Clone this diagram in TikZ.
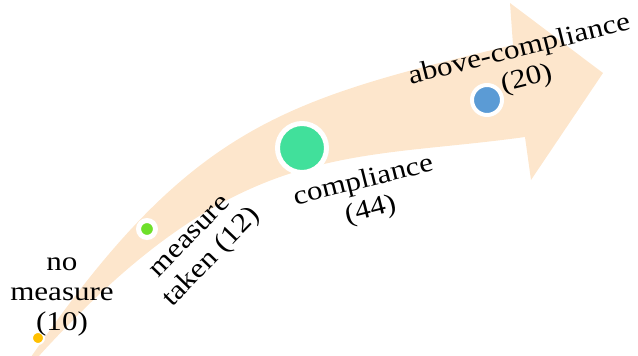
\documentclass[tikz,border=0pt]{standalone}
\usepackage{fontspec}
\setmainfont{Liberation Serif}

\definecolor{band}{HTML}{FDE6CC}
\definecolor{gold}{HTML}{FFC000}
\definecolor{lime}{HTML}{6EE02A}
\definecolor{mint}{HTML}{41E09B}
\definecolor{steel}{HTML}{5B9BD5}

\begin{document}
\begin{tikzpicture}[x=1pt, y=-1pt,
    dot/.style={circle, draw=white, inner sep=0pt},
    lbl/.style={font=\fontsize{27}{30}\selectfont, align=center, inner sep=0pt}]
    \useasboundingbox (0,0) rectangle (638,356);

    % curved arrow
    \fill[band] (31,357) .. controls (191,125) and (283,100) .. (513,45)
        -- (510,3) -- (603,73) -- (531,180) -- (525,137)
        .. controls (345,162) and (238,137) .. (38,357) -- cycle;

    % stages
    \node[dot, fill=gold, line width=2pt, minimum size=12pt] (none) at (38,338) {};
    \node[dot, fill=lime, line width=5pt, minimum size=17pt] (taken) at (147,229) {};
    \node[dot, fill=mint, line width=5pt, minimum size=49pt] (compl) at (302,148) {};
    \node[dot, fill=steel, line width=4pt, minimum size=30pt] (above) at (487,100) {};

    % labels (text is set a little wide)
    \node[lbl, xscale=1.15] (nonelbl) at (62,297) {no\\measure\\(10)};
    \node[lbl, rotate=46, xscale=1.15] (takenlbl) at (203,249) {measure\\taken (12)};
    \node[lbl, rotate=14, xscale=1.15] (compllbl) at (367,196) {compliance\\(44)};
    \node[lbl, rotate=14, xscale=1.15] (abovelbl) at (523,65) {above-compliance\\(20)};
\end{tikzpicture}
\end{document}
